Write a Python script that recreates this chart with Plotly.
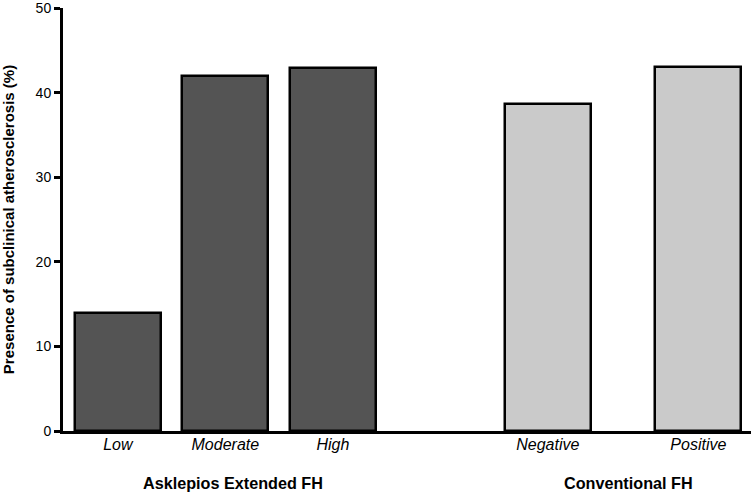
import plotly.graph_objects as go

# Presence of subclinical atherosclerosis by FH classification
categories = ['Low', 'Moderate', 'High', 'Negative', 'Positive']
positions = [1, 2, 3, 5, 6.4]
values = [13.9, 42.0, 42.9, 38.6, 43.0]
groups = ['Asklepios Extended FH', 'Conventional FH']
group_centers = [2.07, 5.75]

dark = '#545454'
light = '#cacaca'
colors = [dark, dark, dark, light, light]

fig = go.Figure()
fig.add_trace(go.Bar(
    x=positions,
    y=values,
    width=0.8,
    marker_color=colors,
    marker_line_color='black',
    marker_line_width=2.5,
    showlegend=False,
    hoverinfo='skip',
    cliponaxis=False
))

for name, cx in zip(groups, group_centers):
    fig.add_annotation(
        x=cx, y=0, xref='x', yref='paper',
        yshift=-63, text='<b>' + name + '</b>',
        showarrow=False, font=dict(size=16.2, color='black')
    )

fig.update_layout(
    width=755, height=496,
    margin=dict(l=63, r=4, t=8, b=65, autoexpand=False),
    plot_bgcolor='white',
    paper_bgcolor='white',
    font=dict(family='Liberation Sans, Arial, sans-serif', color='black'),
    bargap=0
)
fig.update_xaxes(
    range=[0.49, 6.89],
    tickvals=positions,
    ticktext=['<i>' + c + '</i>' for c in categories],
    tickfont=dict(size=16),
    ticklabelstandoff=-3,
    ticks='', showline=True, linecolor='black', linewidth=3,
    showgrid=False, zeroline=False, automargin=False
)
fig.update_yaxes(
    range=[0, 50],
    tickmode='linear', tick0=0, dtick=10,
    tickfont=dict(size=14),
    ticklabeloverflow='allow',
    ticks='outside', ticklen=6, tickwidth=2.5, tickcolor='black',
    showline=True, linecolor='black', linewidth=3,
    showgrid=False, zeroline=False, automargin=False,
    title=dict(text='<b>Presence of subclinical atherosclerosis (%)</b>',
               font=dict(size=15), standoff=20)
)

fig.write_html('out.html', config={'displayModeBar': False},
               post_script="document.body.style.margin='0';")
